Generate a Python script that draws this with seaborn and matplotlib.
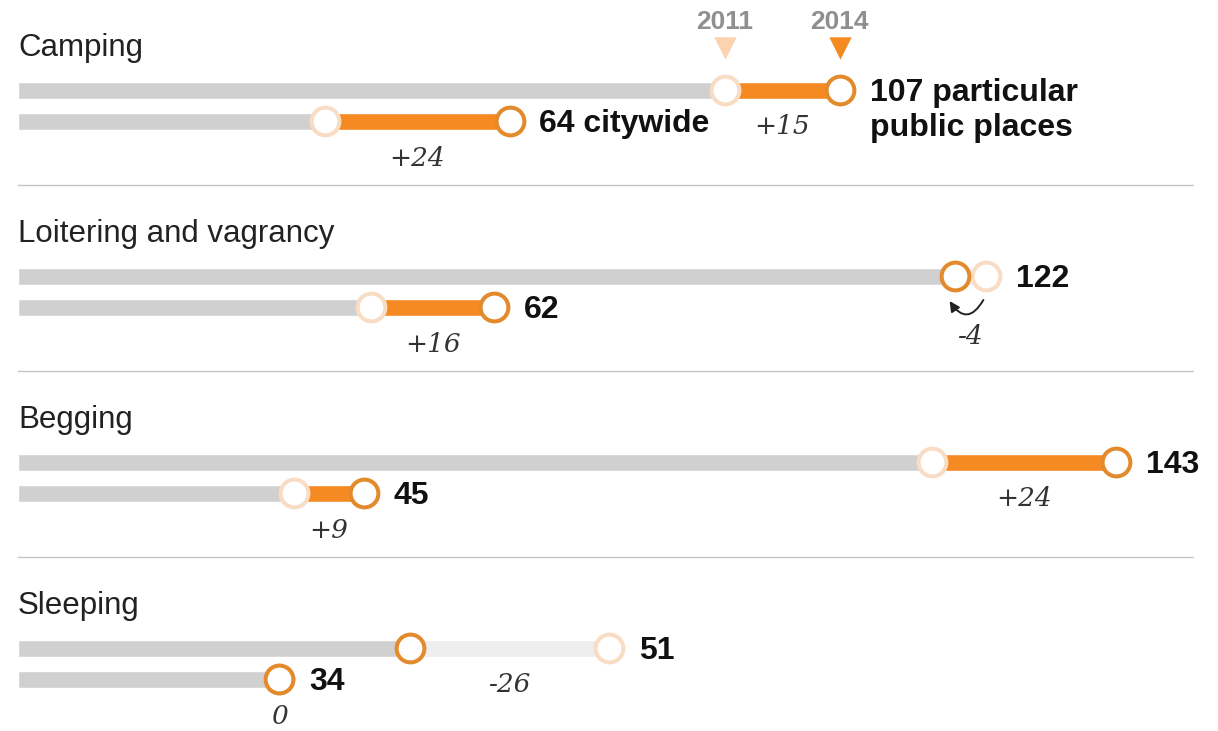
import numpy as np
import pandas as pd
import matplotlib
matplotlib.use('Agg')
import matplotlib.pyplot as plt
import seaborn as sns
from matplotlib.patches import FancyArrowPatch

sns.set_theme(style="white")
plt.rcParams['font.family'] = ['Liberation Sans', 'DejaVu Sans']

# data: arrests per category, 2011 vs 2014
categories = ["Camping", "Loitering and vagrancy", "Begging", "Sleeping"]
places_2011 = [92, 126, 119, 77]
places_2014 = [107, 122, 143, 51]
city_2011 = [40, 46, 36, 34]
city_2014 = [64, 62, 45, 34]
places_suffix = [" particular\npublic places", "", "", ""]
city_suffix = [" citywide", "", "", ""]
years = ["2011", "2014"]

# colours
GRAY = "#d0d0d0"
PALE = "#eeeeee"
ORANGE = "#f58a22"
RING14 = "#e28a2c"
RING11 = "#f9dcc4"
TRI11 = "#fbd3ae"

# layout in pixels (y axis runs in pixels, x in data units)
PX = 7.68          # pixels per unit
X0 = 18            # pixel of value 0
BLOCK = 186
TITLE0 = 45

fig = plt.figure(figsize=(12.18, 7.31), dpi=100)
ax = fig.add_axes([0, 0, 1, 1])
ax.set_xlim(-X0 / PX, (1218 - X0) / PX)
ax.set_ylim(731, 0)
ax.axis('off')

rows = []
for i, cat in enumerate(categories):
    ty = TITLE0 + BLOCK * i
    rows.append(dict(cat=cat, y=ty + 45, v11=places_2011[i], v14=places_2014[i],
                     suffix=places_suffix[i]))
    rows.append(dict(cat=cat, y=ty + 76, v11=city_2011[i], v14=city_2014[i],
                     suffix=city_suffix[i]))
df = pd.DataFrame(rows)
df['change'] = df['v14'] - df['v11']
df['lo'] = df[['v11', 'v14']].min(axis=1)
df['hi'] = df[['v11', 'v14']].max(axis=1)

# titles and separators
for i, cat in enumerate(categories):
    ty = TITLE0 + BLOCK * i
    ax.text(0, ty + 11, cat, fontsize=22.5, color="#222222", va='baseline', ha='left')
    if i > 0:
        ax.plot([0, 153], [ty - 46, ty - 46], color="#c4c4c4", lw=1)

# bars
bh = 17
ax.barh(df['y'], df['lo'], left=0, height=bh, color=GRAY, zorder=1)
up = df[df['change'] > 0]
down = df[df['change'] < 0]
ax.barh(up['y'], up['change'], left=up['v11'], height=bh, color=ORANGE, zorder=1)
ax.barh(down['y'], -down['change'], left=down['v14'], height=bh, color=PALE, zorder=1)

# circles
sns.scatterplot(x=df['v11'], y=df['y'], s=400, color='white', edgecolor=RING11,
                linewidth=2.9, ax=ax, zorder=3, legend=False)
sns.scatterplot(x=df['v14'], y=df['y'], s=400, color='white', edgecolor=RING14,
                linewidth=2.9, ax=ax, zorder=4, legend=False)

# value labels and change labels
for _, r in df.iterrows():
    lines = f"{r['v14']}{r['suffix']}".split("\n")
    for k, line in enumerate(lines):
        ax.text(r['hi'] + 3.9, r['y'] + 11 + 35 * k, line, fontsize=23, fontweight='bold',
                color='#111111', va='baseline', ha='left')
    ch = r['change']
    lab = f"+{ch}" if ch > 0 else f"{ch}"
    mid = (r['v11'] + r['v14']) / 2
    dy = 37
    if ch < 0 and abs(ch) < 5:
        # circles overlap: small curved arrow under them
        arr = FancyArrowPatch((r['v11'] - 0.3, r['y'] + 24), (r['v14'] - 0.7, r['y'] + 25),
                              connectionstyle="arc3,rad=-0.8", arrowstyle='-|>',
                              mutation_scale=15, color='#222222', lw=1.4,
                              shrinkA=0, shrinkB=0, zorder=6)
        ax.add_patch(arr)
        dy = 61
    ax.text(mid, r['y'] + dy, lab, fontsize=19, style='italic', color='#333333',
            family=['DejaVu Serif'], ha='center', va='center')

# year legend above the first row
first = df.iloc[0]
for yr, v, tc in zip(years, [first['v11'], first['v14']], [TRI11, ORANGE]):
    ax.text(v, 22, yr, fontsize=19, fontweight='bold', color='#8f8f8f',
            ha='center', va='center')
    ax.scatter([v], [48], marker='v', s=260, color=tc, zorder=5, linewidths=0)

fig.savefig('out.png', dpi=100)
